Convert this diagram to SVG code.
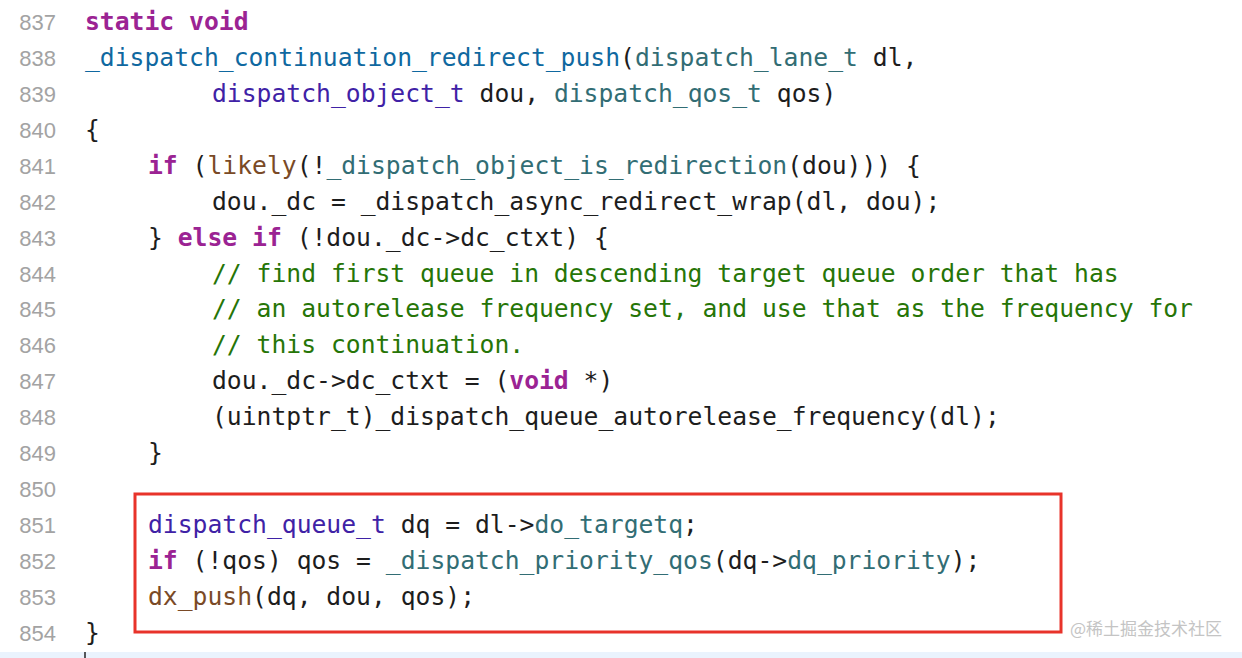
<svg xmlns="http://www.w3.org/2000/svg" width="1242" height="658" viewBox="0 0 1242 658">
<style>
.n{font-family:"Liberation Sans",Arial,sans-serif;font-size:22px;fill:#a3a3a3;text-anchor:end}
.c{font-family:"DejaVu Sans Mono","Liberation Mono",monospace;font-size:24.7px;fill:#1d1d1d;white-space:pre}
.k{fill:#9b2393;font-weight:bold}
.f{fill:#0f68a0}
.t{fill:#3f22a6}
.p{fill:#326d74}
.m{fill:#7a4a26}
.g{fill:#267507}
</style>
<rect width="1242" height="658" fill="#ffffff"/>
<rect x="0" y="652" width="1242" height="6" fill="#eaf3fd"/>
<line x1="85" y1="652" x2="85" y2="658" stroke="#222" stroke-width="1.5"/>
<g id="linenumbers">
<text class="n" x="56" y="30">837</text>
<text class="n" x="56" y="66">838</text>
<text class="n" x="56" y="102">839</text>
<text class="n" x="56" y="138">840</text>
<text class="n" x="56" y="174">841</text>
<text class="n" x="56" y="210">842</text>
<text class="n" x="56" y="246">843</text>
<text class="n" x="56" y="282">844</text>
<text class="n" x="56" y="317">845</text>
<text class="n" x="56" y="353">846</text>
<text class="n" x="56" y="389">847</text>
<text class="n" x="56" y="425">848</text>
<text class="n" x="56" y="461">849</text>
<text class="n" x="56" y="497">850</text>
<text class="n" x="56" y="533">851</text>
<text class="n" x="56" y="569">852</text>
<text class="n" x="56" y="605">853</text>
<text class="n" x="56" y="641">854</text>
</g>
<g id="code">
<text class="c" x="85" y="30"><tspan class="k">static void</tspan></text>
<text class="c" x="85" y="66"><tspan class="f">_dispatch_continuation_redirect_push</tspan>(<tspan class="p">dispatch_lane_t</tspan> dl,</text>
<text class="c" x="212" y="102"><tspan class="t">dispatch_object_t</tspan> dou, <tspan class="p">dispatch_qos_t</tspan> qos)</text>
<text class="c" x="85" y="138">{</text>
<text class="c" x="148" y="174"><tspan class="k">if</tspan> (<tspan class="m">likely</tspan>(!<tspan class="p">_dispatch_object_is_redirection</tspan>(dou))) {</text>
<text class="c" x="212" y="210">dou._dc = _dispatch_async_redirect_wrap(dl, dou);</text>
<text class="c" x="148" y="246">} <tspan class="k">else if</tspan> (!dou._dc-&gt;dc_ctxt) {</text>
<text class="c g" x="212" y="282">// find first queue in descending target queue order that has</text>
<text class="c g" x="212" y="317">// an autorelease frequency set, and use that as the frequency for</text>
<text class="c g" x="212" y="353">// this continuation.</text>
<text class="c" x="212" y="389">dou._dc-&gt;dc_ctxt = (<tspan class="k">void</tspan> *)</text>
<text class="c" x="212" y="425">(uintptr_t)_dispatch_queue_autorelease_frequency(dl);</text>
<text class="c" x="148" y="461">}</text>
<text class="c" x="148" y="533"><tspan class="t">dispatch_queue_t</tspan> dq = dl-&gt;<tspan class="p">do_targetq</tspan>;</text>
<text class="c" x="148" y="569"><tspan class="k">if</tspan> (!qos) qos = <tspan class="p">_dispatch_priority_qos</tspan>(dq-&gt;<tspan class="p">dq_priority</tspan>);</text>
<text class="c" x="148" y="605"><tspan class="m">dx_push</tspan>(dq, dou, qos);</text>
<text class="c" x="85" y="641">}</text>
</g>
<rect id="highlight" x="135" y="494" width="926" height="138" fill="none" stroke="#e8332a" stroke-width="3"/>
<text x="1222" y="635" font-family="'Noto Sans CJK SC',sans-serif" font-size="17" fill="#c4c4c4" text-anchor="end">@稀土掘金技术社区</text>
</svg>
